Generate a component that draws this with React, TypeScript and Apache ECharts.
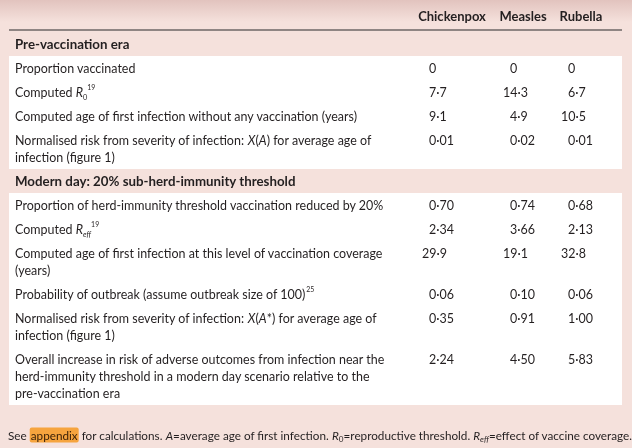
import React, { useEffect, useRef } from "react";
import * as echarts from "echarts";

// ---------- data ----------
const columns = ["Chickenpox", "Measles", "Rubella"];
const sectionTitles = ["Pre-vaccination era", "Modern day: 20% sub-herd-immunity threshold"];

const preLabels = [
  "Proportion vaccinated",
  "Computed {i|R}{sub|0}{sup|19}",
  "Computed age of first infection without any vaccination (years)",
  "Normalised risk from severity of infection: {i|X}({i|A}) for average age of\ninfection (figure 1)",
];
const preChickenpox = ["0", "7·7", "9·1", "0·01"];
const preMeasles = ["0", "14·3", "4·9", "0·02"];
const preRubella = ["0", "6·7", "10·5", "0·01"];

const modernLabels = [
  "Proportion of herd-immunity threshold vaccination reduced by 20%",
  "Computed {i|R}{subi|eff}{sup|19}",
  "Computed age of first infection at this level of vaccination coverage\n(years)",
  "Probability of outbreak (assume outbreak size of 100){sup|25}",
  "Normalised risk from severity of infection: {i|X}({i|A}*) for average age of\ninfection (figure 1)",
  "Overall increase in risk of adverse outcomes from infection near the\nherd-immunity threshold in a modern day scenario relative to the\npre-vaccination era",
];
const modernChickenpox = ["0·70", "2·34", "29·9", "0·06", "0·35", "2·24"];
const modernMeasles = ["0·74", "3·66", "19·1", "0·10", "0·91", "4·50"];
const modernRubella = ["0·68", "2·13", "32·8", "0·06", "1·00", "5·83"];

const footnote =
  "See {hl|appendix} for calculations. {i|A}=average age of first infection. {i|R}{sub|0}=reproductive threshold. {i|R}{subi|eff}=effect of vaccine coverage.";

// ---------- layout / style ----------
const W = 632;
const H = 448;
const LEFT = 9;
const RIGHT = 622;
const TEXT_X = 15;
const COL_X = [429, 510, 568];
const HEAD_X = [452, 523, 581];
const LINE_H = 17;
const ROW_PAD = 7;
const SECTION_H = 24;
const FONT = "Lato";
const INK = "#231f20";
const PINK = "#f5e1dc";
const BODY_SIZE = 13.5;
const BODY_SCALE = 0.925;
const FOOT_SIZE = 11.6;
const FOOT_SCALE = 1.012;

const rich = (size: number) => ({
  i: { fontFamily: FONT, fontSize: size, fontStyle: "italic", fill: INK },
  sub: { fontFamily: FONT, fontSize: 8, fill: INK, verticalAlign: "bottom" },
  subi: { fontFamily: FONT, fontSize: 8, fontStyle: "italic", fill: INK, verticalAlign: "bottom" },
  sup: { fontFamily: FONT, fontSize: 7.5, fill: INK, verticalAlign: "top" },
  hl: {
    fontFamily: FONT,
    fontSize: size,
    fill: "#3b2108",
    backgroundColor: "#f6a43e",
    borderRadius: 2,
    padding: [2, 1, 1, 1],
  },
});

function txt(x: number, y: number, text: string, style: any, scaleX = 1) {
  return {
    type: "text",
    x,
    y,
    scaleX,
    style: { x: 0, y: 0, text, fill: INK, fontFamily: FONT, ...style },
  };
}

function buildGraphic() {
  const els: any[] = [];
  els.push({ type: "rect", shape: { x: 0, y: 0, width: W, height: H }, style: { fill: PINK }, silent: true });
  els.push({
    type: "rect",
    shape: { x: 0, y: 0, width: W, height: 22 },
    style: {
      fill: new echarts.graphic.LinearGradient(0, 0, 0, 1, [
        { offset: 0, color: "rgba(190,140,135,0.35)" },
        { offset: 1, color: "rgba(190,140,135,0)" },
      ]),
    },
    silent: true,
  });
  columns.forEach((c, i) => {
    els.push(txt(HEAD_X[i], 16, c, { align: "center", verticalAlign: "middle", fontSize: 13, fontWeight: "bold" }));
  });
  els.push({
    type: "line",
    shape: { x1: LEFT, y1: 30, x2: RIGHT, y2: 30 },
    style: { stroke: "#2a2a2a", lineWidth: 1.2 },
  });

  const sections = [
    { title: sectionTitles[0], labels: preLabels, vals: [preChickenpox, preMeasles, preRubella] },
    { title: sectionTitles[1], labels: modernLabels, vals: [modernChickenpox, modernMeasles, modernRubella] },
  ];
  let y = 32;
  sections.forEach((s) => {
    els.push(
      txt(TEXT_X, y + SECTION_H / 2, s.title, {
        align: "left", verticalAlign: "middle", fontSize: 13.3, fontWeight: "bold",
      })
    );
    y += SECTION_H;
    const heights = s.labels.map((l) => ROW_PAD + LINE_H * l.split("\n").length);
    const total = heights.reduce((a, b) => a + b, 0);
    els.push({ type: "rect", shape: { x: LEFT, y, width: RIGHT - LEFT, height: total }, style: { fill: "#ffffff" }, silent: true });
    s.labels.forEach((label, r) => {
      const top = y + ROW_PAD / 2;
      els.push(
        txt(TEXT_X, top, label, {
          align: "left", verticalAlign: "top", fontSize: BODY_SIZE, lineHeight: LINE_H, rich: rich(BODY_SIZE),
        }, BODY_SCALE)
      );
      s.vals.forEach((arr, c) => {
        const v = arr[r];
        const intDigits = v.split("·")[0].length;
        els.push(
          txt(COL_X[c] - (intDigits - 1) * 7, top, v, {
            align: "left", verticalAlign: "top", fontSize: BODY_SIZE, lineHeight: LINE_H,
          }, BODY_SCALE)
        );
      });
      y += heights[r];
    });
  });

  els.push(
    txt(8, 435, footnote, {
      align: "left", verticalAlign: "middle", fontSize: FOOT_SIZE, lineHeight: 16, rich: rich(FOOT_SIZE),
    }, FOOT_SCALE)
  );
  return els;
}

export default function App() {
  const ref = useRef<HTMLDivElement>(null);
  useEffect(() => {
    if (!ref.current) return;
    const chart = echarts.init(ref.current, null, { renderer: "svg" });
    chart.setOption({ animation: false, graphic: { elements: buildGraphic() } });
    return () => chart.dispose();
  }, []);
  return <div ref={ref} style={{ position: "fixed", left: 0, top: 0, width: W, height: H }} />;
}
